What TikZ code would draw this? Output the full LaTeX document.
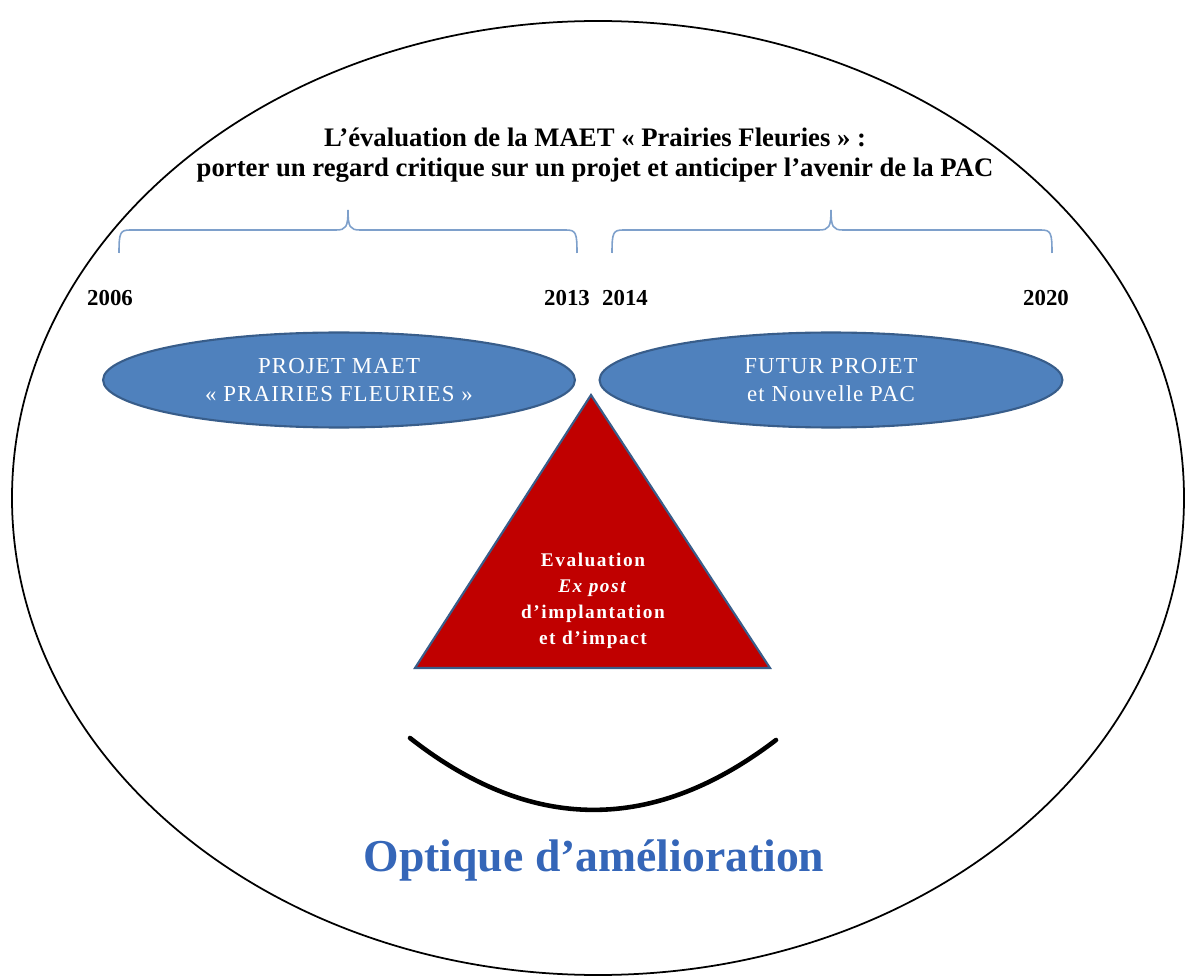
\documentclass[tikz,border=0pt]{standalone}
\usepackage{amssymb}
\usepackage{amsmath}
\usepackage{pgf,tikz}
\usepackage{tkz-euclide}
\usepackage{xcolor}
\usepackage{fontspec}
\setmainfont{Liberation Serif}
\newfontfamily\spacedfont[LetterSpace=8]{Liberation Serif}
\newfontfamily\ovalfont[LetterSpace=5]{Liberation Serif}
\usetikzlibrary{arrows, calc, shapes.geometric}

\definecolor{ovalblue}{HTML}{4F81BD}
\definecolor{ovalline}{HTML}{385D8A}
\definecolor{bracecol}{HTML}{7EA0CB}
\definecolor{triared}{HTML}{C00000}
\definecolor{optblue}{HTML}{3566B8}

\tikzset{
  oval/.style={ellipse, draw=ovalline, line width=1.2pt, fill=ovalblue, text=white,
    align=center, minimum height=1.9cm, font=\ovalfont\fontsize{13}{16}\selectfont},
  year/.style={font=\bfseries\fontsize{13}{15}\selectfont},
  bracket/.style={draw=bracecol, line width=0.9pt},
}

\begin{document}
\begin{tikzpicture}[x=0.02cm, y=-0.02cm]
    \useasboundingbox (0,0) rectangle (1187,976);
    \draw[line width=1pt] (598,498) ellipse [x radius=586, y radius=477];

    % titre
    \node[font=\bfseries\fontsize{15.2}{17}\selectfont, align=center] (titre) at (595,155)
      {L’évaluation de la MAET «~Prairies Fleuries~» :\\
       porter un regard critique sur un projet et anticiper l’avenir de la PAC};

    % accolades
    \draw[bracket] (119,253) .. controls (119,233) and (120,230) .. (130,230) -- (336,230)
      .. controls (346,230) and (348,227) .. (348,210)
      .. controls (348,227) and (350,230) .. (360,230) -- (566,230)
      .. controls (576,230) and (577,233) .. (577,253);
    \draw[bracket] (612,253) .. controls (612,233) and (613,230) .. (623,230) -- (819,230)
      .. controls (829,230) and (831,227) .. (831,210)
      .. controls (831,227) and (833,230) .. (843,230) -- (1041,230)
      .. controls (1051,230) and (1052,233) .. (1052,253);

    \node[year] (y2006) at (110,298) {2006};
    \node[year] (y2013) at (567,298) {2013};
    \node[year] (y2014) at (625,298) {2014};
    \node[year] (y2020) at (1046,298) {2020};

    \node[oval, minimum width=9.44cm] (maet) at (339,380) {PROJET MAET\\«~PRAIRIES FLEURIES~»};
    \node[oval, minimum width=9.26cm] (futur) at (831,380) {FUTUR PROJET\\et Nouvelle PAC};

    \tkzDefPoint(591,395){T1}
    \tkzDefPoint(415,668){T2}
    \tkzDefPoint(770,668){T3}
    \filldraw[fill=triared, draw=ovalline, line width=1.2pt] (T1) -- (T2) -- (T3) -- cycle;
    \node[text=white, align=center, font=\spacedfont\bfseries\fontsize{11}{14.7}\selectfont] (eval) at (593,601)
      {Evaluation\\\textit{Ex post}\\d’implantation\\et d’impact};

    \tkzDefPoint(410,738){S1}
    \tkzDefPoint(776,740){S2}
    \draw[line width=2.6pt, line cap=round] (S1) .. controls (531,833) and (653,834) .. (S2);

    \node[font=\bfseries\fontsize{26}{30}\selectfont, text=optblue] (optique) at (594,860) {Optique d’amélioration};
\end{tikzpicture}
\end{document}
